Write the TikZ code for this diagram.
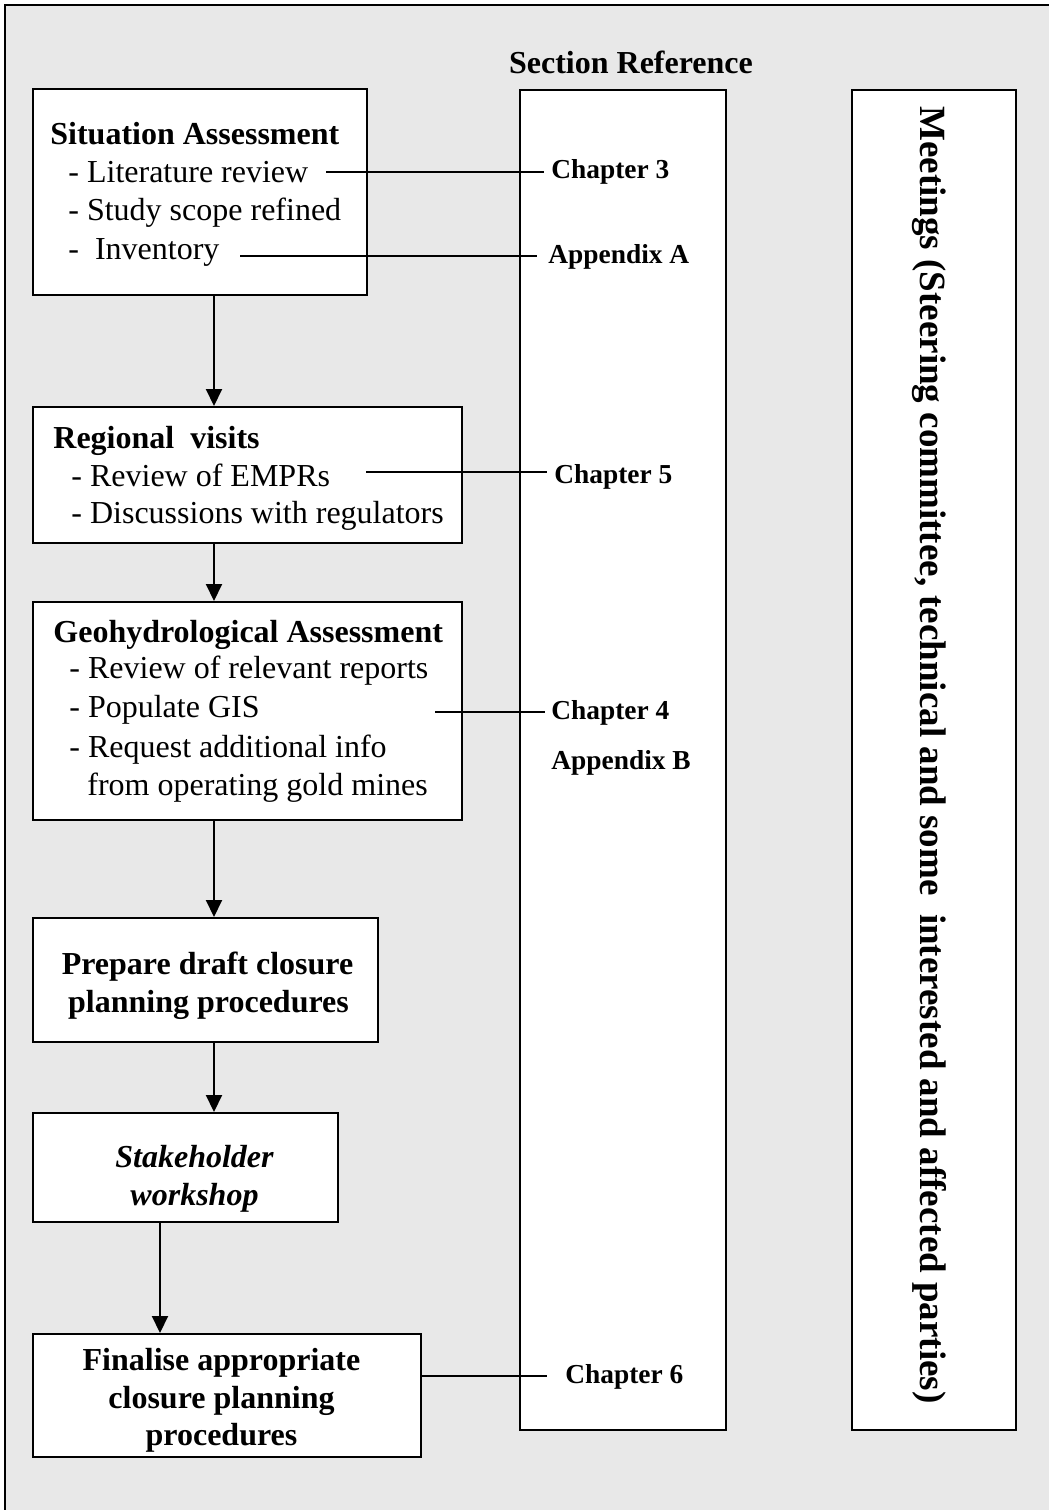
\documentclass[tikz,border=0pt]{standalone}
\usepackage{fontspec}
\setmainfont{Liberation Serif}
\usetikzlibrary{arrows.meta}
\definecolor{panel}{HTML}{E8E8E8}
\newcommand\stepfont{\fontsize{16pt}{19pt}\selectfont}
\newcommand\reffont{\fontsize{13.7pt}{16pt}\selectfont\bfseries}
\newcommand\meetfont{\fontsize{18.5pt}{22pt}\selectfont\bfseries}
\begin{document}
\begin{tikzpicture}[x=0.5pt,y=-0.5pt,
  stepbox/.style={draw=black, line width=1pt, fill=white, inner sep=0pt},
  item/.style={anchor=base west, inner sep=0pt, font=\stepfont},
  head/.style={anchor=base west, inner sep=0pt, font=\stepfont\bfseries},
  ctr/.style={anchor=base, inner sep=0pt, font=\stepfont\bfseries},
  ctrit/.style={anchor=base, inner sep=0pt, font=\stepfont\bfseries\itshape},
  ref/.style={anchor=base west, inner sep=0pt, font=\reffont},
  link/.style={draw=black, line width=1pt},
  flow/.style={draw=black, line width=1pt, -{Triangle[length=8.5pt,width=8pt]}}
]
\useasboundingbox (0,0) rectangle (1049,1510);
% grey panel, open towards the lower right
\begin{scope}
  \clip (0,0) rectangle (1049,1510);
  \draw[line width=1.2pt, fill=panel] (5,5) rectangle (1070,1530);
\end{scope}

% process boxes
\node[stepbox, minimum width=167pt,   minimum height=103pt] (sit)   at (200,192) {};
\node[stepbox, minimum width=214.5pt, minimum height=68pt]  (reg)   at (247.5,475) {};
\node[stepbox, minimum width=214.5pt, minimum height=109pt] (geo)   at (247.5,711) {};
\node[stepbox, minimum width=172.5pt, minimum height=62pt]  (prep)  at (205.5,980) {};
\node[stepbox, minimum width=152.5pt, minimum height=54.5pt](stake) at (185.5,1167.5) {};
\node[stepbox, minimum width=194pt,   minimum height=61.5pt](fin)   at (227,1395.5) {};

% reference columns
\node[stepbox, minimum width=103pt, minimum height=670pt] (secbox) at (623,760) {};
\node[stepbox, minimum width=82pt,  minimum height=670pt] (meet)   at (934,760) {};

% column headings
\node[ctr] (sechead) at (631,73) {Section Reference};
\node[rotate=-90, anchor=base, inner sep=0pt, font=\meetfont] (meettxt) at (920,755)
  {Meetings (Steering committee, technical and some\ \ interested and affected parties)};

% Situation Assessment
\node[head] (sitt) at (50,144) {Situation Assessment};
\node[item] (lit)  at (68,182) {- Literature review};
\node[item] (scope) at (68,220) {- Study scope refined};
\node[item] (inv)  at (68,259) {-\ \ Inventory};

% Regional visits
\node[head] (regt) at (53,448) {Regional\ \ visits};
\node[item] (empr) at (71,486) {- Review of EMPRs};
\node[item] (disc) at (71,523) {- Discussions with regulators};

% Geohydrological Assessment
\node[head] (geot) at (53,642) {Geohydrological Assessment};
\node[item] (rep)  at (69,678) {- Review of relevant reports};
\node[item] (gis)  at (69,717) {- Populate GIS};
\node[item] (req)  at (69,757) {- Request additional info};
\node[item] (mines) at (87,795) {from operating gold mines};

% remaining steps
\node[ctr] (prep1) at (207.5,974) {Prepare draft closure};
\node[ctr] (prep2) at (208.5,1012) {planning procedures};
\node[ctrit] (stake1) at (194.5,1167) {Stakeholder};
\node[ctrit] (stake2) at (194.5,1205) {workshop};
\node[ctr] (fin1) at (221.5,1370) {Finalise appropriate};
\node[ctr] (fin2) at (221.5,1408) {closure planning};
\node[ctr] (fin3) at (221.5,1445) {procedures};

% section references
\node[ref] (ch3)  at (551,178) {Chapter 3};
\node[ref] (appa) at (548,263) {Appendix A};
\node[ref] (ch5)  at (554,483) {Chapter 5};
\node[ref] (ch4)  at (551,719) {Chapter 4};
\node[ref] (appb) at (551,769) {Appendix B};
\node[ref] (ch6)  at (565,1383) {Chapter 6};

% reference links
\coordinate (litend) at (326,172);
\coordinate (invend) at (240,256);
\coordinate (emprend) at (366,472);
\coordinate (gisend) at (435,712);
\coordinate (finend) at (fin.east |- 0,1376);
\draw[link, shorten >=3.5pt] (litend) -- (litend -| ch3.west);
\draw[link, shorten >=5.5pt] (invend) -- (invend -| appa.west);
\draw[link, shorten >=3.5pt] (emprend) -- (emprend -| ch5.west);
\draw[link, shorten >=3pt] (gisend) -- (gisend -| ch4.west);
\draw[link, shorten >=9pt] (finend) -- (finend -| ch6.west);

% flow arrows
\coordinate (spine) at (214,0);
\coordinate (spinelow) at (160,0);
\draw[flow] (sit.south -| spine) -- (reg.north -| spine);
\draw[flow] (reg.south -| spine) -- (geo.north -| spine);
\draw[flow] (geo.south -| spine) -- (prep.north -| spine);
\draw[flow] (prep.south -| spine) -- (stake.north -| spine);
\draw[flow] (stake.south -| spinelow) -- (fin.north -| spinelow);
\end{tikzpicture}
\end{document}
